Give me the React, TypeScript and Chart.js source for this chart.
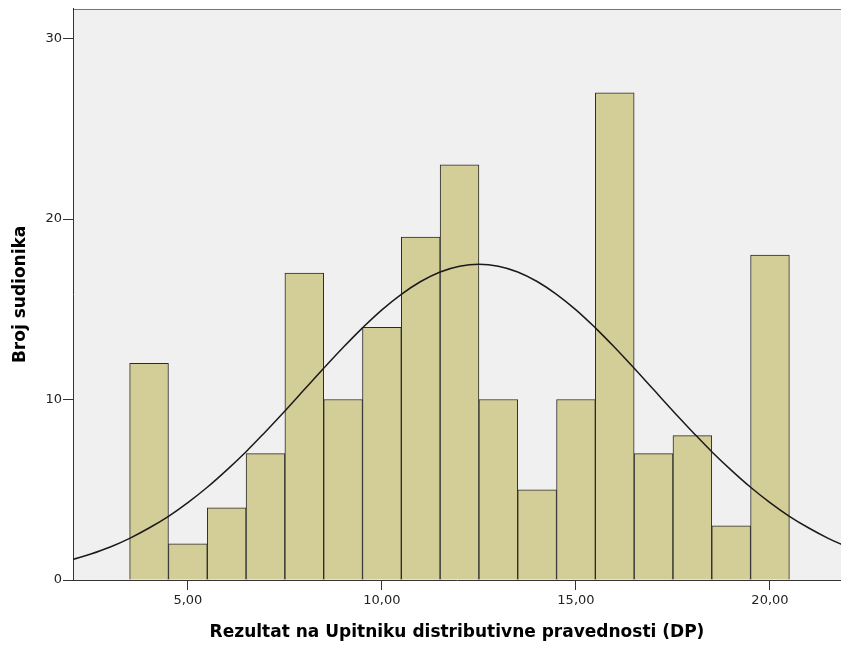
import { useEffect, useRef } from 'react';
import { Chart, registerables } from 'chart.js';

Chart.register(...registerables);

// Histogram bins (centre of each unit-wide bin) and counts
const binCenters = [4, 5, 6, 7, 8, 9, 10, 11, 12, 13, 14, 15, 16, 17, 18, 19, 20];
const counts = [12, 2, 4, 7, 17, 10, 14, 19, 23, 10, 5, 10, 27, 7, 8, 3, 18];

// Normal curve
const curveX = [2, 2.5, 3, 3.5, 4, 4.5, 5, 5.5, 6, 6.5, 7, 7.5, 8, 8.5, 9, 9.5, 10, 10.5, 11, 11.5, 12, 12.5,
  13, 13.5, 14, 14.5, 15, 15.5, 16, 16.5, 17, 17.5, 18, 18.5, 19, 19.5, 20, 20.5, 21, 21.5, 22];
const curveY = [1.11, 1.44, 1.83, 2.31, 2.88, 3.53, 4.29, 5.14, 6.09, 7.11, 8.22, 9.37, 10.55, 11.73, 12.88, 13.97,
  14.97, 15.83, 16.54, 17.07, 17.39, 17.5, 17.39, 17.07, 16.54, 15.83, 14.97, 13.97, 12.88, 11.73, 10.55, 9.37,
  8.22, 7.11, 6.09, 5.14, 4.29, 3.53, 2.88, 2.31, 1.83];

const xTickValues = [5, 10, 15, 20];
const yTickValues = [0, 10, 20, 30];
const xTitle = 'Rezultat na Upitniku distributivne pravednosti (DP)';
const yTitle = 'Broj sudionika';

const FONT = "'DejaVu Sans', Verdana, sans-serif";

const bgPlugin = {
  id: 'bgPlugin',
  beforeDraw(chart: any) {
    const { ctx, chartArea } = chart;
    if (!chartArea) return;
    ctx.save();
    ctx.fillStyle = '#f0f0f0';
    ctx.fillRect(chartArea.left, chartArea.top, chartArea.right - chartArea.left, chartArea.bottom - chartArea.top);
    ctx.strokeStyle = '#777777';
    ctx.lineWidth = 1;
    ctx.beginPath();
    ctx.moveTo(chartArea.left, Math.round(chartArea.top) + 0.5);
    ctx.lineTo(chartArea.right, Math.round(chartArea.top) + 0.5);
    ctx.stroke();
    ctx.restore();
  },
};

export default function App() {
  const canvasRef = useRef<HTMLCanvasElement | null>(null);

  useEffect(() => {
    document.body.style.margin = '0';
    const canvas = canvasRef.current;
    if (!canvas) return;
    const chart = new Chart(canvas, {
      type: 'bar',
      data: {
        datasets: [
          {
            type: 'line',
            data: curveX.map((x, i) => ({ x, y: curveY[i] })),
            borderColor: '#1a1a1a',
            borderWidth: 1.5,
            pointRadius: 0,
            tension: 0.4,
            fill: false,
            order: 0,
          } as any,
          {
            type: 'bar',
            data: binCenters.map((x, i) => ({ x, y: counts[i] })),
            backgroundColor: '#d3ce97',
            borderColor: '#2a2a2a',
            borderWidth: 1,
            barPercentage: 1,
            categoryPercentage: 1,
            order: 1,
          } as any,
        ],
      },
      options: {
        responsive: false,
        animation: false,
        layout: { padding: { top: 8, left: 0, right: 0, bottom: 0 } },
        plugins: {
          legend: { display: false },
          tooltip: { enabled: false },
        },
        scales: {
          x: {
            type: 'linear',
            min: 2.04,
            max: 21.83,
            offset: false,
            grid: {
              display: true,
              offset: false,
              drawOnChartArea: false,
              drawTicks: true,
              tickLength: 10,
              tickColor: '#333333',
            },
            border: { display: true, color: '#333333', width: 1 },
            ticks: {
              color: '#222222',
              font: { family: FONT, size: 13 },
              padding: 3,
              maxRotation: 0,
              callback: (v: any) => Number(v).toFixed(2).replace('.', ','),
            },
            afterBuildTicks: (s: any) => {
              s.ticks = xTickValues.map((v) => ({ value: v }));
            },
            afterFit: (s: any) => {
              s.height = 70;
            },
            title: {
              display: true,
              text: xTitle,
              color: '#000000',
              font: { family: FONT, size: 17, weight: 'bold' },
              padding: { top: 0, bottom: 7 },
            },
          } as any,
          y: {
            type: 'linear',
            min: 0,
            max: 31.65,
            grid: {
              display: true,
              drawOnChartArea: false,
              drawTicks: true,
              tickLength: 10,
              tickColor: '#333333',
            },
            border: { display: true, color: '#333333', width: 1 },
            ticks: {
              color: '#222222',
              font: { family: FONT, size: 13 },
              padding: 1,
              callback: (v: any) => String(v),
            },
            afterBuildTicks: (s: any) => {
              s.ticks = yTickValues.map((v) => ({ value: v }));
            },
            afterFit: (s: any) => {
              s.width = 73;
            },
            title: {
              display: true,
              text: yTitle,
              color: '#000000',
              font: { family: FONT, size: 17, weight: 'bold' },
              padding: { top: 10, bottom: 0 },
            },
          } as any,
        },
      },
      plugins: [bgPlugin],
    });
    return () => chart.destroy();
  }, []);

  return (
    <div style={{ position: 'fixed', left: 0, top: 0, width: 841, height: 650, background: '#ffffff' }}>
      <canvas ref={canvasRef} width={841} height={650} />
    </div>
  );
}
